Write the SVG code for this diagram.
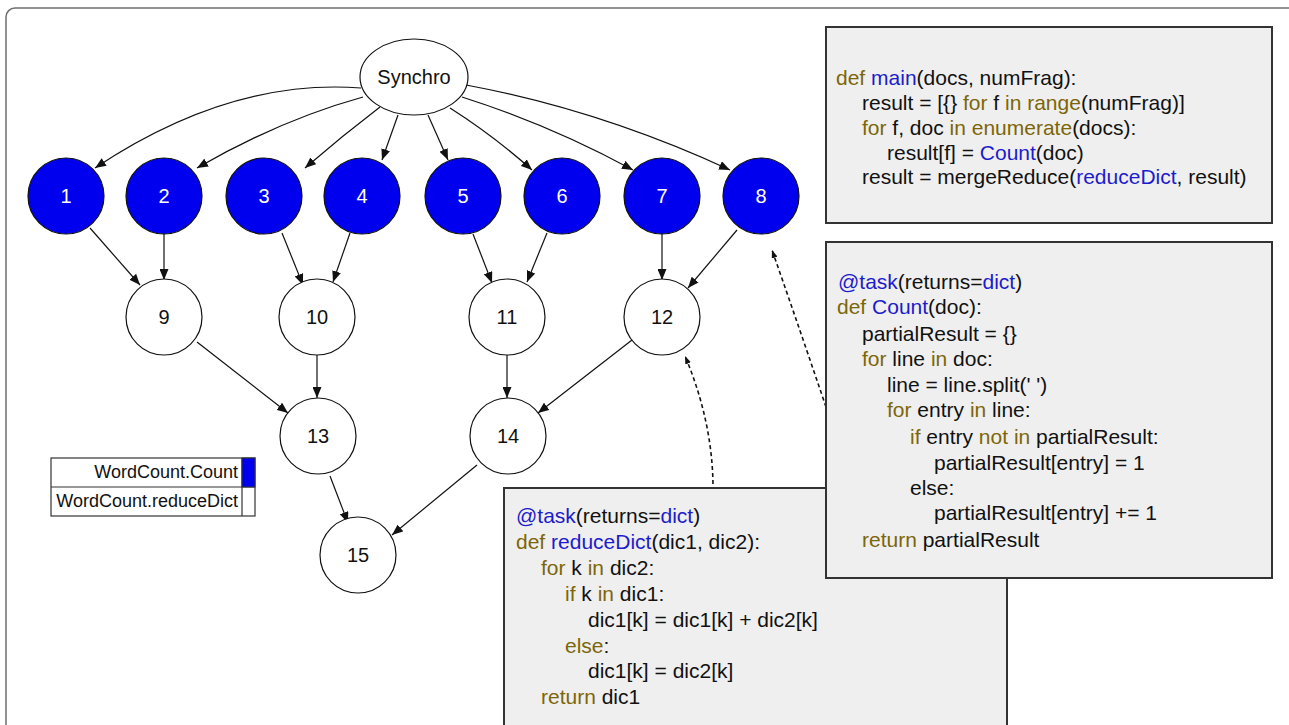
<svg xmlns="http://www.w3.org/2000/svg" width="1289" height="725" viewBox="0 0 1289 725">
<style>
text{font-family:"Liberation Sans",Arial,sans-serif}
.frame{fill:#fff;stroke:#6e6e6e;stroke-width:1.5}
.blue{fill:#0000ee;stroke:#111;stroke-width:1.2}
.white{fill:#fff;stroke:#111;stroke-width:1.2}
.lbl{font-size:20px;text-anchor:middle;fill:#111}
.wl{font-size:20px;text-anchor:middle;fill:#fff}
.edge{fill:none;stroke:#111;stroke-width:1.2;marker-end:url(#ah)}
.dash{fill:none;stroke:#111;stroke-width:1.6;stroke-dasharray:4 3;marker-end:url(#dh)}
.box{fill:#efefef;stroke:#333;stroke-width:2}
.code{font-size:21px;fill:#111}
.k{fill:#7d6608}
.b{fill:#1c1ccc}
.leg{font-size:18px;fill:#111;text-anchor:end}
</style>
<defs>
<marker id="ah" markerUnits="userSpaceOnUse" markerWidth="11" markerHeight="9" refX="11" refY="4.5" orient="auto">
<path d="M0,0 L11,4.5 L0,9 z" fill="#111"/>
</marker>
<marker id="dh" markerUnits="userSpaceOnUse" markerWidth="8" markerHeight="6" refX="8" refY="3" orient="auto">
<path d="M0,0 L8,3 L0,6 z" fill="#111"/>
</marker>
</defs>
<rect class="frame" x="6" y="8" width="1300" height="740" rx="9"/>

<g id="connectors">
<path class="edge" d="M361,88 Q230,78 95,168"/>
<path class="edge" d="M363,97 Q280,120 197,168"/>
<path class="edge" d="M380,107 Q342,136 305,168"/>
<path class="edge" d="M398,115 L382,160"/>
<path class="edge" d="M428,115 L448,160"/>
<path class="edge" d="M450,108 Q494,136 532,170"/>
<path class="edge" d="M462,97 Q550,125 633,170"/>
<path class="edge" d="M466,85 Q600,110 730,170"/>
<path class="edge" d="M90,228 L140,285"/>
<path class="edge" d="M164,233 L164,280"/>
<path class="edge" d="M282,233 L303,285"/>
<path class="edge" d="M350,233 L333,282"/>
<path class="edge" d="M473,234 L492,283"/>
<path class="edge" d="M547,233 L527,282"/>
<path class="edge" d="M662,233 L662,280"/>
<path class="edge" d="M737,230 L688,288"/>
<path class="edge" d="M197,342 L288,413"/>
<path class="edge" d="M317,355 L317,398"/>
<path class="edge" d="M507,355 L507,398"/>
<path class="edge" d="M632,340 L538,413"/>
<path class="edge" d="M330,476 L348,523"/>
<path class="edge" d="M477,465 L392,535"/>
<path class="dash" d="M713,484 Q712,420 685,356"/>
<path class="dash" d="M826,407 Q800,330 772,250"/>
</g>

<g id="synchro"><ellipse class="white" cx="414" cy="77" rx="54" ry="38"/><text class="lbl" x="414" y="84">Synchro</text></g>
<g id="n1"><circle class="blue" cx="66" cy="196" r="38"/><text class="wl" x="66" y="203">1</text></g>
<g id="n2"><circle class="blue" cx="164" cy="196" r="38"/><text class="wl" x="164" y="203">2</text></g>
<g id="n3"><circle class="blue" cx="264" cy="196" r="38"/><text class="wl" x="264" y="203">3</text></g>
<g id="n4"><circle class="blue" cx="362" cy="196" r="38"/><text class="wl" x="362" y="203">4</text></g>
<g id="n5"><circle class="blue" cx="463" cy="196" r="38"/><text class="wl" x="463" y="203">5</text></g>
<g id="n6"><circle class="blue" cx="562" cy="196" r="38"/><text class="wl" x="562" y="203">6</text></g>
<g id="n7"><circle class="blue" cx="662" cy="196" r="38"/><text class="wl" x="662" y="203">7</text></g>
<g id="n8"><circle class="blue" cx="761" cy="196" r="38"/><text class="wl" x="761" y="203">8</text></g>
<g id="n9"><circle class="white" cx="164" cy="317" r="38"/><text class="lbl" x="164" y="324">9</text></g>
<g id="n10"><circle class="white" cx="317" cy="317" r="38"/><text class="lbl" x="317" y="324">10</text></g>
<g id="n11"><circle class="white" cx="507" cy="317" r="38"/><text class="lbl" x="507" y="324">11</text></g>
<g id="n12"><circle class="white" cx="662" cy="317" r="38"/><text class="lbl" x="662" y="324">12</text></g>
<g id="n13"><circle class="white" cx="318" cy="436" r="38"/><text class="lbl" x="318" y="443">13</text></g>
<g id="n14"><circle class="white" cx="508" cy="436" r="38"/><text class="lbl" x="508" y="443">14</text></g>
<g id="n15"><circle class="white" cx="358" cy="555" r="38"/><text class="lbl" x="358" y="562">15</text></g>

<g id="legend">
<rect x="51" y="458" width="204" height="58" fill="#fff" stroke="#333" stroke-width="1.2"/>
<line x1="51" y1="487" x2="255" y2="487" stroke="#333" stroke-width="1.2"/>
<line x1="242" y1="458" x2="242" y2="516" stroke="#333" stroke-width="1.2"/>
<rect x="242" y="458" width="13" height="29" fill="#0000ee" stroke="#333" stroke-width="1"/>
<text class="leg" x="238" y="478">WordCount.Count</text>
<text class="leg" x="238" y="507">WordCount.reduceDict</text>
</g>

<g id="main-code">
<rect class="box" x="826" y="27" width="446" height="196"/>
<text class="code" x="836" y="85"><tspan class="k">def</tspan> <tspan class="b">main</tspan>(docs, numFrag):</text>
<text class="code" x="862" y="110">result = [{} <tspan class="k">for</tspan> f <tspan class="k">in range</tspan>(numFrag)]</text>
<text class="code" x="862" y="135"><tspan class="k">for</tspan> f, doc <tspan class="k">in enumerate</tspan>(docs):</text>
<text class="code" x="887" y="160">result[f] = <tspan class="b">Count</tspan>(doc)</text>
<text class="code" x="862" y="184">result = mergeReduce(<tspan class="b">reduceDict</tspan>, result)</text>
</g>

<g id="reduce-code">
<rect class="box" x="504" y="488" width="503" height="250"/>
<text class="code" x="516" y="523"><tspan class="b">@task</tspan>(returns=<tspan class="b">dict</tspan>)</text>
<text class="code" x="516" y="549"><tspan class="k">def</tspan> <tspan class="b">reduceDict</tspan>(dic1, dic2):</text>
<text class="code" x="541" y="575"><tspan class="k">for</tspan> k <tspan class="k">in</tspan> dic2:</text>
<text class="code" x="565" y="601"><tspan class="k">if</tspan> k <tspan class="k">in</tspan> dic1:</text>
<text class="code" x="588" y="627">dic1[k] = dic1[k] + dic2[k]</text>
<text class="code" x="565" y="653"><tspan class="k">else</tspan>:</text>
<text class="code" x="588" y="678">dic1[k] = dic2[k]</text>
<text class="code" x="541" y="704"><tspan class="k">return</tspan> dic1</text>
</g>

<g id="count-code">
<rect class="box" x="826" y="242" width="446" height="336"/>
<text class="code" x="838" y="289"><tspan class="b">@task</tspan>(returns=<tspan class="b">dict</tspan>)</text>
<text class="code" x="837" y="314"><tspan class="k">def</tspan> <tspan class="b">Count</tspan>(doc):</text>
<text class="code" x="862" y="341">partialResult = {}</text>
<text class="code" x="862" y="366"><tspan class="k">for</tspan> line <tspan class="k">in</tspan> doc:</text>
<text class="code" x="887" y="392">line = line.split(' ')</text>
<text class="code" x="887" y="417"><tspan class="k">for</tspan> entry <tspan class="k">in</tspan> line:</text>
<text class="code" x="910" y="444"><tspan class="k">if</tspan> entry <tspan class="k">not in</tspan> partialResult:</text>
<text class="code" x="934" y="470">partialResult[entry] = 1</text>
<text class="code" x="910" y="495">else:</text>
<text class="code" x="934" y="520">partialResult[entry] += 1</text>
<text class="code" x="862" y="547"><tspan class="k">return</tspan> partialResult</text>
</g>
</svg>
